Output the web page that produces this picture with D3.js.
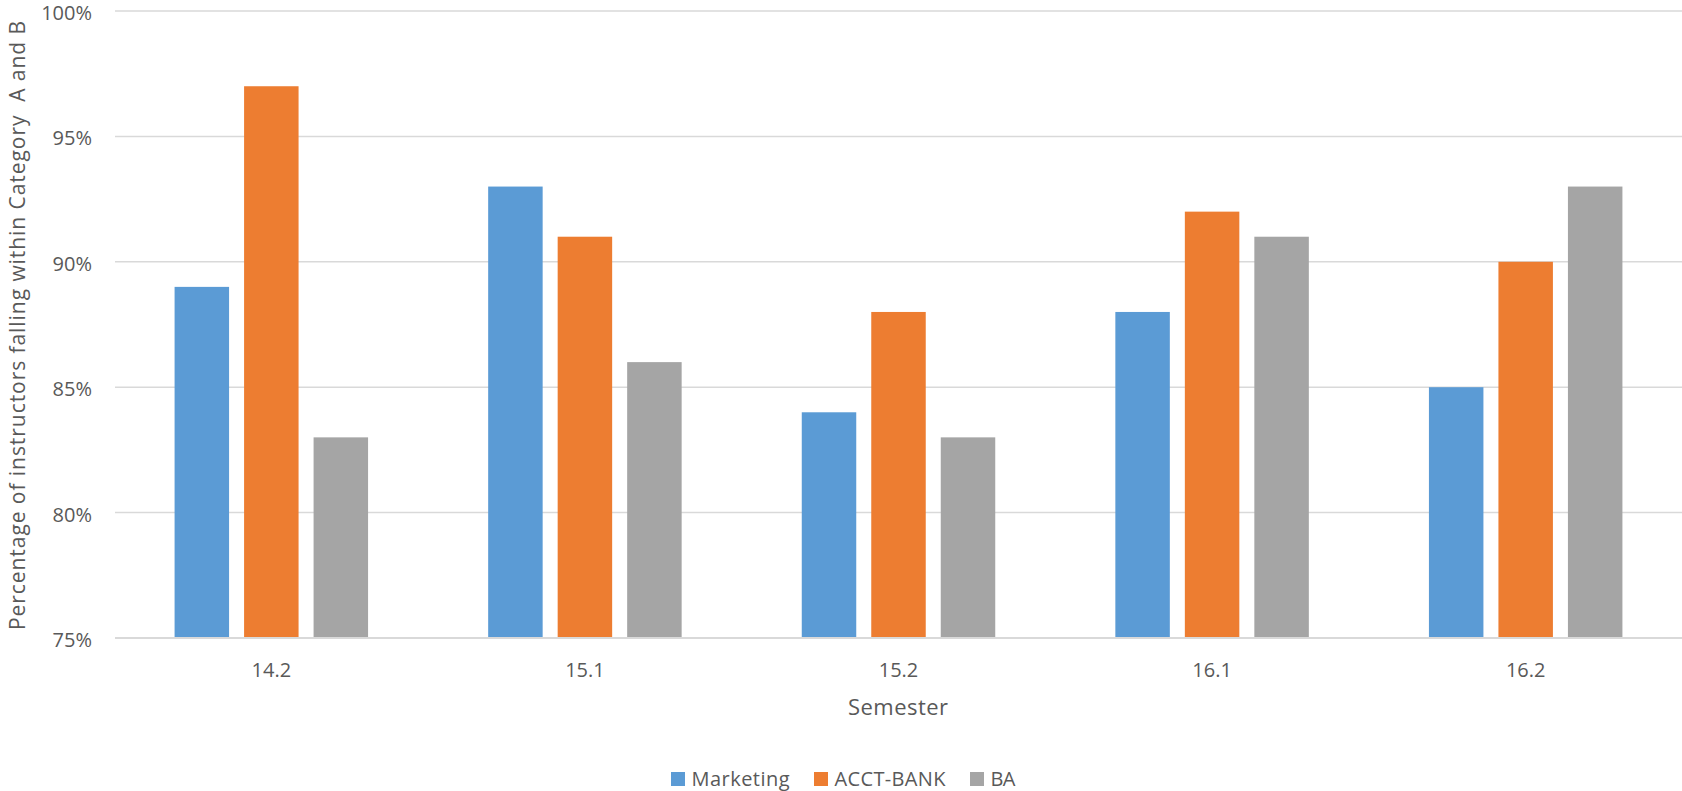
<!DOCTYPE html>
<html>
<head>
<meta charset="utf-8">
<script src="https://cdn.jsdelivr.net/npm/d3@7"></script>
<style>
  html, body { margin: 0; padding: 0; background: #fff; }
  svg { display: block; }
  text { font-family: "Open Sans", "Liberation Sans", Arial, sans-serif; fill: #595959; }
</style>
</head>
<body>
<svg id="chart" width="1682" height="791"></svg>
<script>
// Semesters on the x axis
const semesters = ["14.2", "15.1", "15.2", "16.1", "16.2"];
// Share of instructors in Category A and B, per department (%)
const marketing = [89, 93, 84, 88, 85];
const acctBank  = [97, 91, 88, 92, 90];
const ba        = [83, 86, 83, 91, 93];
const seriesNames  = ["Marketing", "ACCT-BANK", "BA"];
const seriesColors = ["#5B9BD5", "#ED7D31", "#A5A5A5"];
const yTicks = [75, 80, 85, 90, 95, 100];

const seriesValues = [marketing, acctBank, ba];
const rows = semesters.map((s, i) => ({
  semester: s,
  values: seriesNames.map((name, k) => ({ name, value: seriesValues[k][i] }))
}));

const svg = d3.select("#chart");
const plot = { left: 115, right: 1682, top: 11, bottom: 638 };
const FONT = "Open Sans, Liberation Sans, Arial, sans-serif";

const x = d3.scaleBand()
  .domain(semesters)
  .range([plot.left, plot.right])
  .paddingInner(0.383)
  .paddingOuter(0.19);

const xInner = d3.scaleBand()
  .domain(seriesNames)
  .range([0, x.bandwidth()])
  .paddingInner(0.216);

const y = d3.scaleLinear().domain([75, 100]).range([plot.bottom, plot.top]);

// Horizontal gridlines
svg.append("g")
  .selectAll("line")
  .data(yTicks.filter(t => t !== 75))
  .join("line")
  .attr("x1", plot.left).attr("x2", plot.right)
  .attr("y1", d => y(d)).attr("y2", d => y(d))
  .attr("stroke", "#D9D9D9").attr("stroke-width", 1.5);

// Bars
const groups = svg.append("g")
  .selectAll("g")
  .data(rows)
  .join("g")
  .attr("transform", d => `translate(${x(d.semester)},0)`);

groups.selectAll("rect")
  .data(d => d.values)
  .join("rect")
  .attr("x", d => xInner(d.name))
  .attr("width", xInner.bandwidth())
  .attr("y", d => y(d.value))
  .attr("height", d => y(75) - y(d.value))
  .attr("fill", (d, i) => seriesColors[i]);

// Baseline
svg.append("line")
  .attr("x1", plot.left).attr("x2", plot.right)
  .attr("y1", y(75)).attr("y2", y(75))
  .attr("stroke", "#D9D9D9").attr("stroke-width", 2);

// Y axis labels
const yAxis = d3.axisLeft(y)
  .tickValues(yTicks)
  .tickFormat(d => d + "%")
  .tickSize(0)
  .tickPadding(0);
const yg = svg.append("g")
  .attr("transform", `translate(${92},0)`)
  .call(yAxis);
yg.select(".domain").remove();
yg.selectAll("text")
  .attr("font-size", 20)
  .attr("font-family", FONT)
  .attr("fill", "#595959")
  .attr("dy", "0.42em");

// X axis labels
const xAxis = d3.axisBottom(x).tickSize(0).tickPadding(0);
const xg = svg.append("g")
  .attr("transform", `translate(0,${plot.bottom})`)
  .call(xAxis);
xg.select(".domain").remove();
xg.selectAll("text")
  .attr("font-size", 20)
  .attr("font-family", FONT)
  .attr("fill", "#595959")
  .attr("dy", null)
  .attr("y", 38.5);

// Axis titles
svg.append("text")
  .attr("x", 898)
  .attr("y", 715)
  .attr("text-anchor", "middle")
  .attr("font-size", 22)
  .attr("textLength", 100)
  .attr("lengthAdjust", "spacing")
  .text("Semester");

svg.append("text")
  .attr("transform", `translate(25,${325.5}) rotate(-90)`)
  .attr("text-anchor", "middle")
  .attr("font-size", 21)
  .attr("textLength", 609)
  .attr("lengthAdjust", "spacing")
  .style("white-space", "pre")
  .text("Percentage of instructors falling within Category  A and B");

// Legend
const legendItems = [
  { name: "Marketing", x: 671, w: 98 },
  { name: "ACCT-BANK", x: 814, w: 111 },
  { name: "BA", x: 970, w: 25 }
];
const legend = svg.append("g");
legendItems.forEach((item, i) => {
  legend.append("rect")
    .attr("x", item.x).attr("y", 772)
    .attr("width", 14).attr("height", 14)
    .attr("fill", seriesColors[i]);
  legend.append("text")
    .attr("x", item.x + 20.5).attr("y", 786)
    .attr("font-size", 20)
    .attr("textLength", item.w)
    .attr("lengthAdjust", "spacing")
    .text(item.name);
});
</script>
</body>
</html>
